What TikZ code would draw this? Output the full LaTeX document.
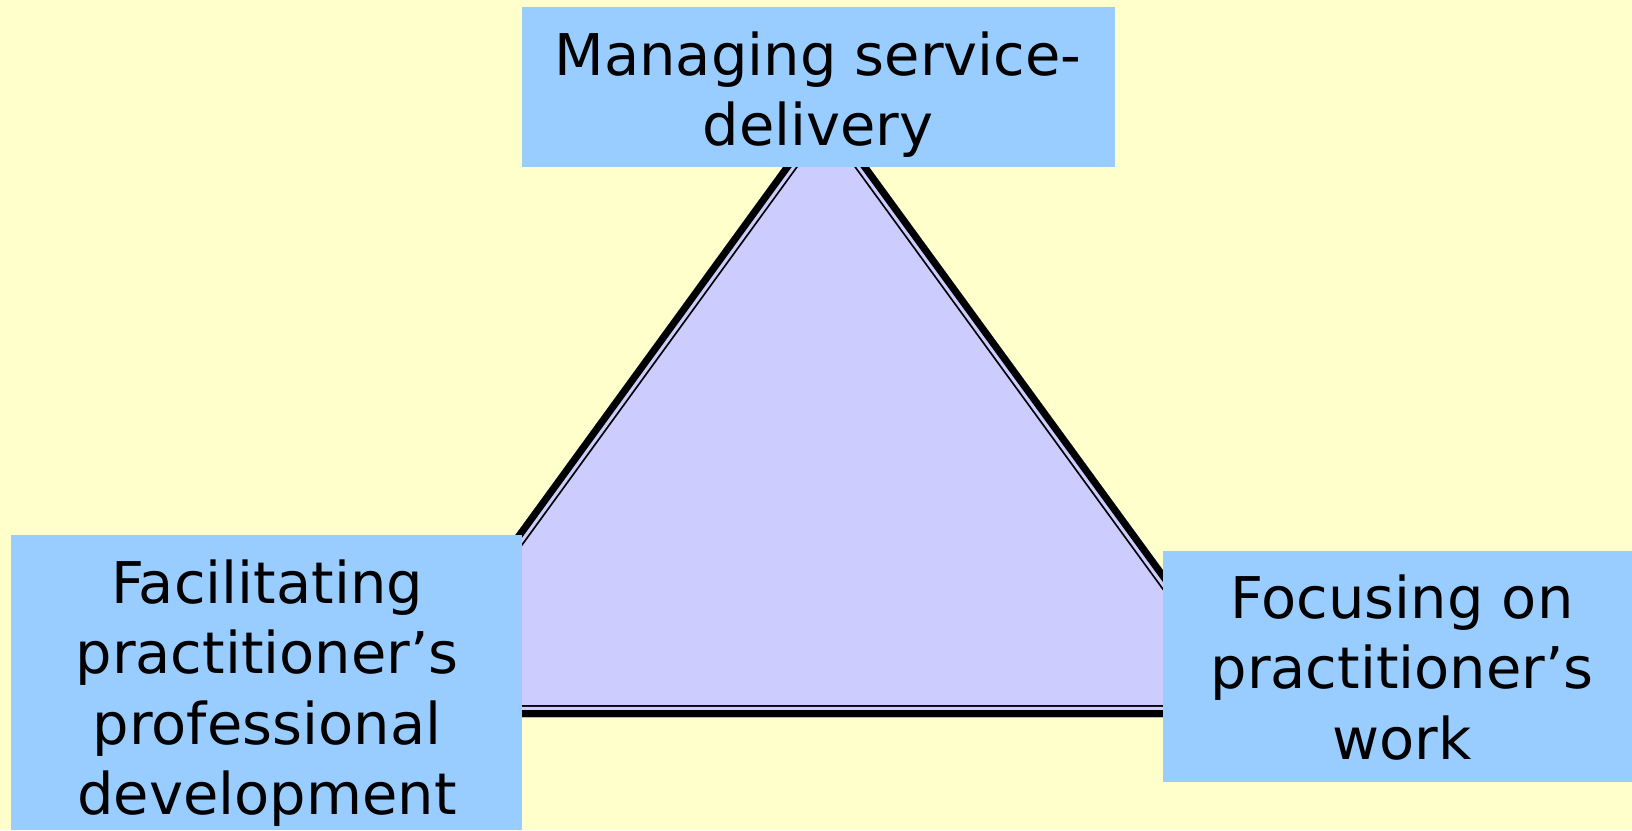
\documentclass[tikz,border=0pt]{standalone}
\usepackage{fontspec}
\setmainfont{DejaVu Sans}
\definecolor{bgyellow}{HTML}{FFFFCC}
\definecolor{boxblue}{HTML}{99CCFF}
\definecolor{trilav}{HTML}{CCCCFF}
\begin{document}
\begin{tikzpicture}[x=1pt,y=-1pt,
  box/.style={fill=boxblue,draw=none,inner sep=0pt,anchor=north west},
  lbl/.style={font=\fontsize{57.5}{70.5}\selectfont,anchor=base,inner sep=0pt},
  tri/.style={line join=miter}]
\fill[bgyellow] (0,0) rectangle (1632,830);
\useasboundingbox (0,0) rectangle (1632,830);
% triangle (outer edge of its border)
\coordinate (A) at (826,108);
\coordinate (B) at (383,717);
\coordinate (C) at (1270,717);
\begin{scope}
  \clip (A) -- (B) -- (C) -- cycle;
  \fill[trilav] (A) -- (B) -- (C) -- cycle;
  \draw[tri, black, line width=24] (A) -- (B) -- (C) -- cycle;
  \draw[tri, trilav, line width=20.4] (A) -- (B) -- (C) -- cycle;
  \draw[tri, black, line width=14] (A) -- (B) -- (C) -- cycle;
\end{scope}
% boxes
\node[box, minimum width=593, minimum height=160] (topbox) at (522,7) {};
\node[box, minimum width=511, minimum height=295] (leftbox) at (11,535) {};
\node[box, minimum width=469, minimum height=231] (rightbox) at (1163,551) {};
% texts
\node[lbl] (toptext) at (818,75) {\begin{tabular}[t]{@{}c@{}}Managing service-\\delivery\end{tabular}};
\node[lbl] (lefttext) at (267,603) {\begin{tabular}[t]{@{}c@{}}Facilitating\\practitioner’s\\professional\\development\end{tabular}};
\node[lbl] (righttext) at (1402,618) {\begin{tabular}[t]{@{}c@{}}Focusing on\\practitioner’s\\work\end{tabular}};
\end{tikzpicture}
\end{document}
